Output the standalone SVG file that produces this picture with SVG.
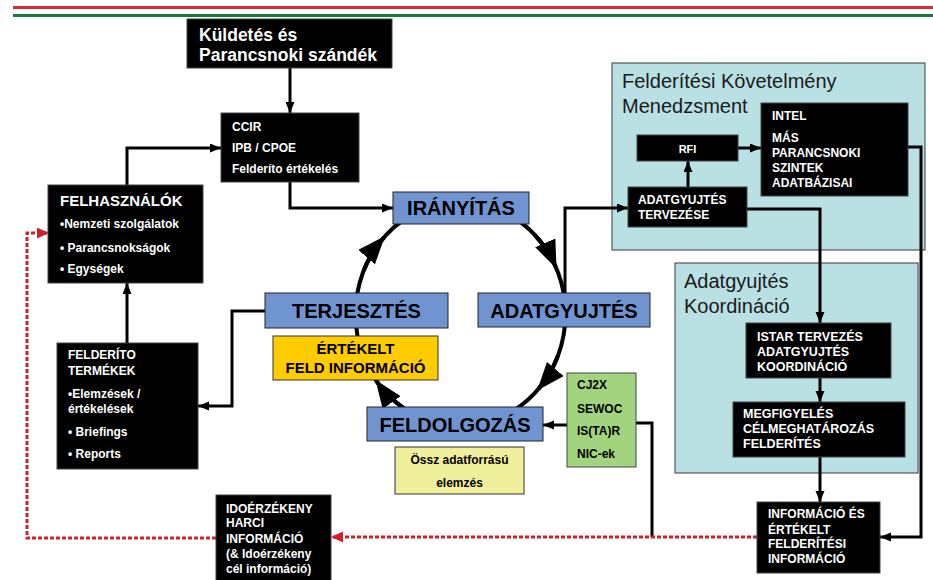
<svg xmlns="http://www.w3.org/2000/svg" width="933" height="580" viewBox="0 0 933 580">
<style>
text{font-family:"Liberation Sans",Arial,sans-serif;}
.bk{fill:#000;stroke:#444;stroke-width:1;}
.w{fill:#fff;font-weight:bold;font-size:12px;}
.blue{fill:#7094d0;stroke:#222;stroke-width:1;}
.bt{fill:#000;font-weight:bold;font-size:20px;text-anchor:middle;}
.panel{fill:#b9e1e4;stroke:#555;stroke-width:1.2;}
.pt{fill:#1a1a1a;font-size:20px;}
.c{fill:none;stroke:#000;stroke-width:3;}
.red{fill:none;stroke:#d0202c;stroke-width:3;stroke-dasharray:4 2;}
.cyc{fill:none;stroke:#000;stroke-width:4;}
</style>
<defs>
<marker id="ah" markerUnits="userSpaceOnUse" markerWidth="12" markerHeight="10" refX="11" refY="4.5" orient="auto"><path d="M0,0 L11,4.5 L0,9 z" fill="#000"/></marker>
<marker id="ahr" markerUnits="userSpaceOnUse" markerWidth="13" markerHeight="12" refX="12" refY="5.5" orient="auto"><path d="M0,0 L12,5.5 L0,11 z" fill="#d0202c"/></marker>
<marker id="big" markerUnits="userSpaceOnUse" markerWidth="30" markerHeight="24" refX="26" refY="11" orient="auto"><path d="M0,0 L28,11 L0,22 z" fill="#000"/></marker>
</defs>
<rect width="933" height="580" fill="#fff"/>
<line x1="13" y1="7.5" x2="933" y2="7.5" stroke="#e02a2f" stroke-width="3.2"/>
<line x1="13" y1="15.5" x2="933" y2="15.5" stroke="#1a7a3e" stroke-width="3.2"/>

<g id="panel-fkm"><rect class="panel" x="612" y="63" width="313" height="187"/>
<text class="pt" x="622" y="88">Felderítési Követelmény</text><text class="pt" x="622" y="113">Menedzsment</text></g>
<g id="panel-ak"><rect class="panel" x="675" y="263" width="243" height="210"/>
<text class="pt" x="684" y="288">Adatgyujtés</text><text class="pt" x="684" y="313">Koordináció</text></g>

<g id="connectors">
<ellipse class="cyc" cx="460.5" cy="314" rx="105" ry="112"/>
<path class="cyc" d="M363.8,270.2 A105,112 0 0 1 383.7,237.6" marker-end="url(#big)"/>
<path class="cyc" d="M534.7,234.8 A105,112 0 0 1 555.7,266.7" marker-end="url(#big)"/>
<path class="cyc" d="M557.9,356 A105,112 0 0 1 538.5,388.9" marker-end="url(#big)"/>
<path class="cyc" d="M403.3,407.9 A105,112 0 0 1 376.6,381.4" marker-end="url(#big)"/>
<path class="c" d="M290,68 V113" marker-end="url(#ah)"/>
<path class="c" d="M127,185 V148 H221" marker-end="url(#ah)"/>
<path class="c" d="M290,182 V208 H393" marker-end="url(#ah)"/>
<path class="c" d="M565,293 V208 H628" marker-end="url(#ah)"/>
<path class="c" d="M688,187 V161" marker-end="url(#ah)"/>
<path class="c" d="M738,148 H761" marker-end="url(#ah)"/>
<path class="c" d="M747,209 H820 V323" marker-end="url(#ah)"/>
<path class="c" d="M820,378 V402" marker-end="url(#ah)"/>
<path class="c" d="M820,457 V502" marker-end="url(#ah)"/>
<path class="c" d="M908,147 H921 V537 H880" marker-end="url(#ah)"/>
<path class="c" d="M567,425 H543" marker-end="url(#ah)"/>
<path class="c" d="M636,423 H652 V537"/>
<path class="c" d="M265,311 H232 V406 H198" marker-end="url(#ah)"/>
<path class="c" d="M127,343 V283" marker-end="url(#ah)"/>
<path class="red" d="M757,537 H331" marker-end="url(#ahr)"/>
<path class="red" d="M216,538 H27 V233 H49" marker-end="url(#ahr)"/>
</g>

<g id="kuldetes"><rect class="bk" x="187" y="19" width="205" height="49"/>
<text class="w" x="199" y="41" style="font-size:17.5px">Küldetés és</text><text class="w" x="199" y="61" style="font-size:17.5px">Parancsnoki szándék</text></g>
<g id="ccir"><rect class="bk" x="221" y="113" width="138" height="69"/>
<text class="w" x="232" y="131">CCIR</text><text class="w" x="232" y="152">IPB / CPOE</text><text class="w" x="232" y="173">Felderíto értékelés</text></g>
<g id="felhasznalok"><rect class="bk" x="48" y="185" width="155" height="98"/>
<text class="w" x="60" y="206" style="font-size:15px">FELHASZNÁLÓK</text>
<text class="w" x="60" y="228">•Nemzeti szolgálatok</text><text class="w" x="60" y="252">• Parancsnokságok</text><text class="w" x="60" y="273">• Egységek</text></g>
<g id="termekek"><rect class="bk" x="57" y="343" width="141" height="126"/>
<text class="w" x="68" y="359">FELDERÍTO</text><text class="w" x="68" y="375">TERMÉKEK</text>
<text class="w" x="68" y="398">•Elemzések /</text><text class="w" x="68" y="413">értékelések</text>
<text class="w" x="68" y="436">• Briefings</text><text class="w" x="68" y="458">• Reports</text></g>

<g id="iranyitas"><rect class="blue" x="393" y="192" width="136" height="32"/><text class="bt" x="461" y="215">IRÁNYÍTÁS</text></g>
<g id="terjesztes"><rect class="blue" x="265" y="293" width="183" height="35"/><text class="bt" x="356.5" y="318">TERJESZTÉS</text></g>
<g id="adatgyujtes"><rect class="blue" x="478" y="293" width="172" height="34"/><text class="bt" x="564" y="318">ADATGYUJTÉS</text></g>
<g id="feldolgozas"><rect class="blue" x="367" y="407" width="176" height="34"/><text class="bt" x="455" y="432">FELDOLGOZÁS</text></g>
<g id="ertekelt"><rect x="273" y="336" width="165" height="44" fill="#ffcc00" stroke="#333"/>
<text x="355.5" y="354" font-size="15" font-weight="bold" text-anchor="middle" fill="#000">ÉRTÉKELT</text>
<text x="355.5" y="373" font-size="15" font-weight="bold" text-anchor="middle" fill="#000">FELD INFORMÁCIÓ</text></g>
<g id="ossz"><rect x="395" y="447" width="129" height="47" fill="#f0f09c" stroke="#333"/>
<text x="459.5" y="464" font-size="12" font-weight="bold" text-anchor="middle" fill="#000">Össz adatforrású</text>
<text x="459.5" y="487" font-size="12" font-weight="bold" text-anchor="middle" fill="#000">elemzés</text></g>
<g id="cj2x"><rect x="567" y="373" width="69" height="94" fill="#a2d47f" stroke="#444"/>
<text x="577" y="389" font-size="12" font-weight="bold" fill="#000">CJ2X</text>
<text x="577" y="413" font-size="12" font-weight="bold" fill="#000">SEWOC</text>
<text x="577" y="435" font-size="12" font-weight="bold" fill="#000">IS(TA)R</text>
<text x="577" y="458" font-size="12" font-weight="bold" fill="#000">NIC-ek</text></g>

<g id="intel"><rect class="bk" x="761" y="103" width="147" height="93"/>
<text class="w" x="772" y="120">INTEL</text><text class="w" x="772" y="142">MÁS</text><text class="w" x="772" y="157">PARANCSNOKI</text><text class="w" x="772" y="172">SZINTEK</text><text class="w" x="772" y="187">ADATBÁZISAI</text></g>
<g id="rfi"><rect class="bk" x="637" y="135" width="101" height="26"/><text class="w" x="687.5" y="153" text-anchor="middle" style="font-size:11px">RFI</text></g>
<g id="tervezese"><rect class="bk" x="628" y="187" width="119" height="40"/>
<text class="w" x="638" y="204">ADATGYUJTÉS</text><text class="w" x="638" y="219">TERVEZÉSE</text></g>
<g id="istar"><rect class="bk" x="746" y="323" width="145" height="55"/>
<text class="w" x="757" y="341" style="font-size:12.5px">ISTAR TERVEZÉS</text><text class="w" x="757" y="356" style="font-size:12.5px">ADATGYUJTÉS</text><text class="w" x="757" y="371" style="font-size:12.5px">KOORDINÁCIÓ</text></g>
<g id="megfigyeles"><rect class="bk" x="733" y="402" width="172" height="55"/>
<text class="w" x="743" y="418" style="font-size:12.5px">MEGFIGYELÉS</text><text class="w" x="743" y="433" style="font-size:12.5px">CÉLMEGHATÁROZÁS</text><text class="w" x="743" y="448" style="font-size:12.5px">FELDERÍTÉS</text></g>
<g id="informacio"><rect class="bk" x="757" y="502" width="123" height="71"/>
<text class="w" x="768" y="518">INFORMÁCIÓ ÉS</text><text class="w" x="768" y="534">ÉRTÉKELT</text><text class="w" x="768" y="548">FELDERÍTÉSI</text><text class="w" x="768" y="563">INFORMÁCIÓ</text></g>
<g id="idoerzekeny"><rect class="bk" x="216" y="495" width="115" height="86"/>
<text class="w" x="226" y="513">IDOÉRZÉKENY</text><text class="w" x="226" y="527">HARCI</text><text class="w" x="226" y="543">INFORMÁCIÓ</text><text class="w" x="226" y="558">(&amp; Idoérzékeny</text><text class="w" x="226" y="573">cél információ)</text></g>
</svg>
